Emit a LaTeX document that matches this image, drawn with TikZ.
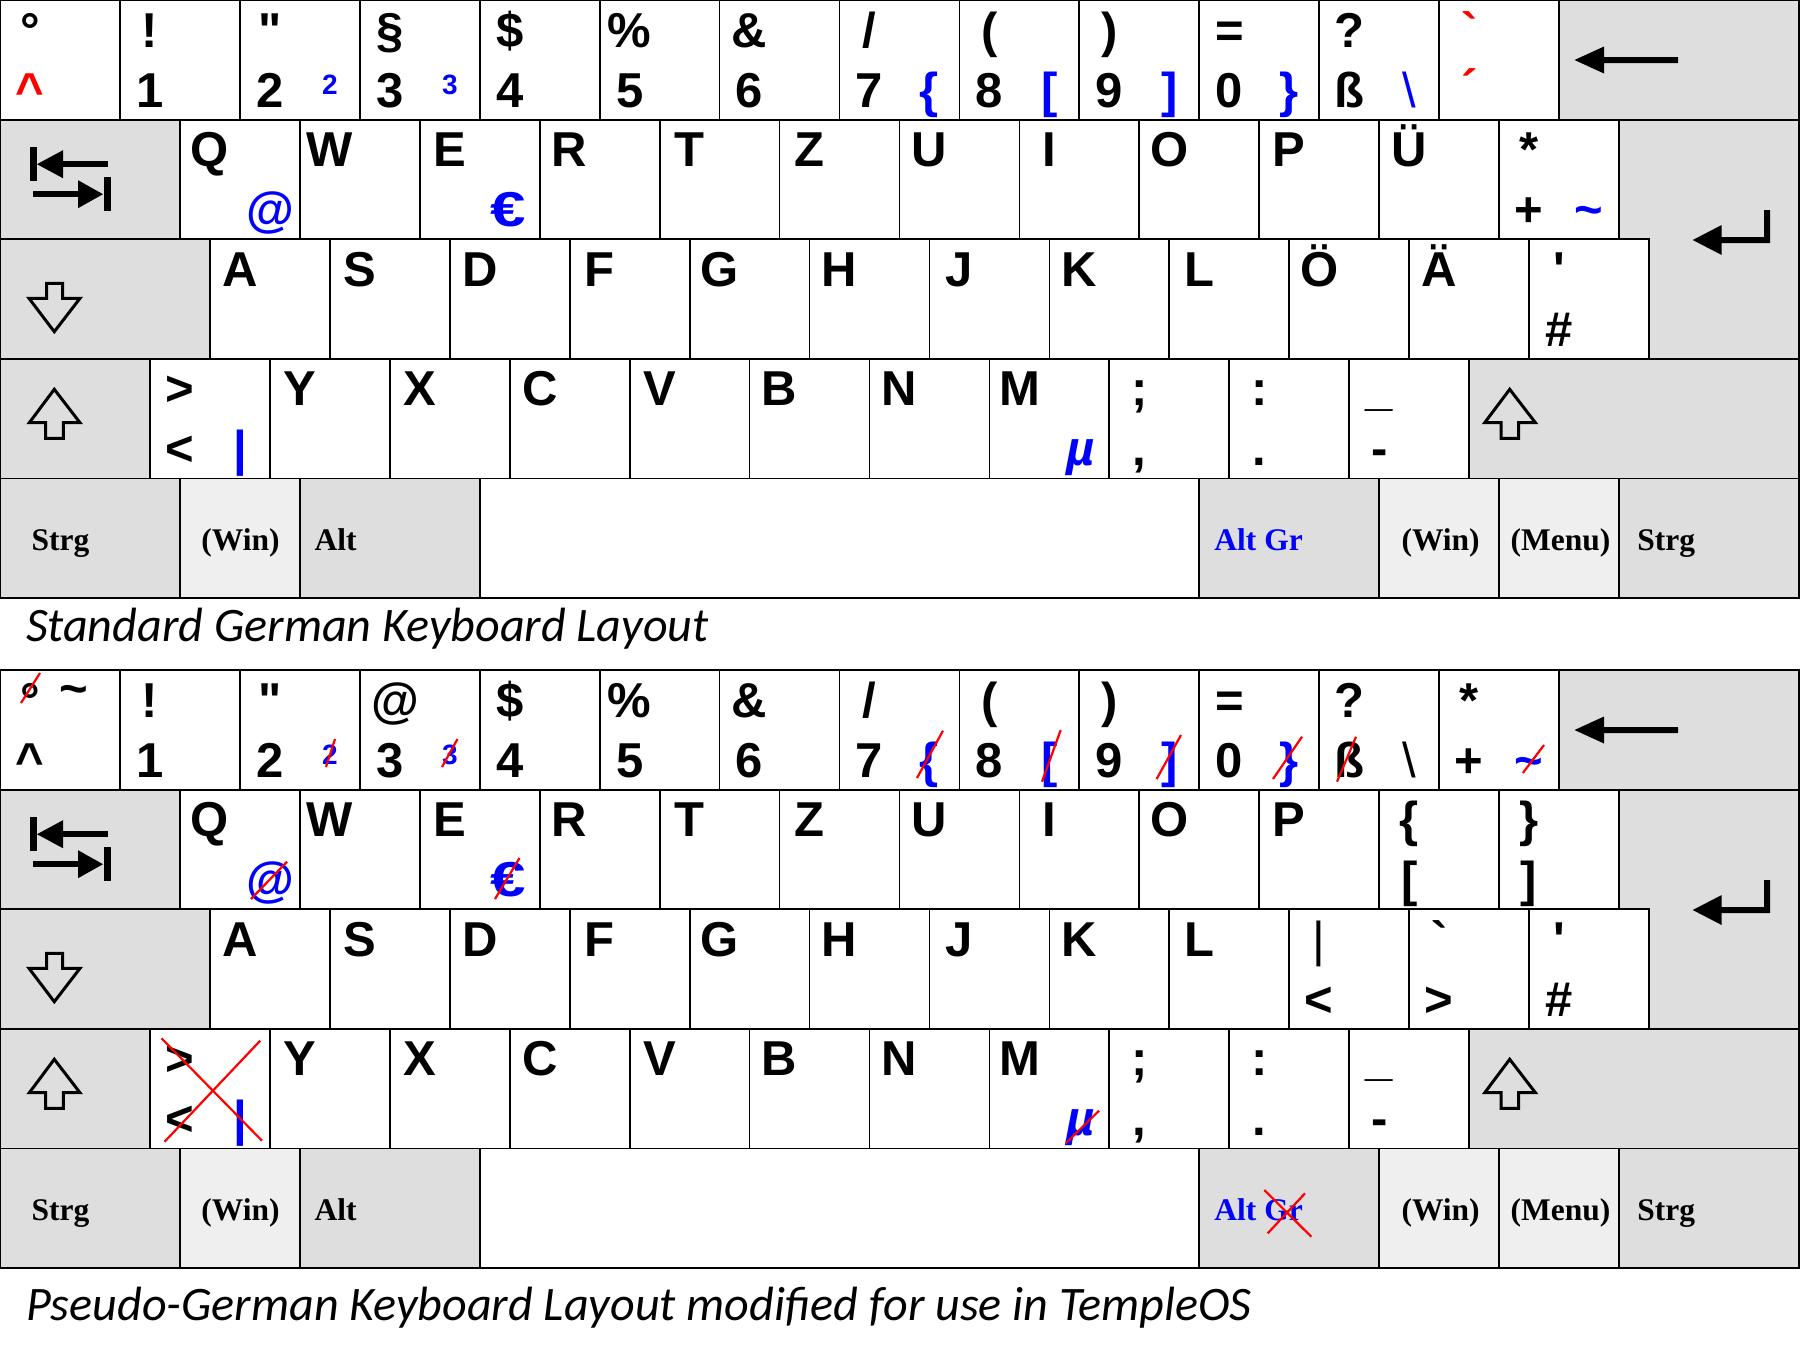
\documentclass[tikz,border=0pt]{standalone}
\usepackage{fontspec}
\usepackage{graphicx}
\newfontfamily\kfam{Liberation Sans}[Ligatures=TeXOff]
\newfontfamily\tfam{Liberation Serif}
\newfontfamily\cfam{Carlito}
\definecolor{kgray}{HTML}{DEDEDE}
\definecolor{klight}{HTML}{EFEFEF}
\definecolor{kblue}{HTML}{0000FF}
\definecolor{kred}{HTML}{FF0000}
\newcounter{lc}
\def\uu{119.93}
\def\hh{119.6}
\tikzset{
  keyframe/.style={draw=black, line width=1.8pt},
  lbl/.style={inner sep=0pt, outer sep=0pt, anchor=base, font=\kfam\bfseries\fontsize{49}{55}\selectfont},
  smallfont/.style={font=\kfam\bfseries\fontsize{28}{33}\selectfont},
  thinfont/.style={font=\kfam\fontsize{49}{55}\selectfont},
  italfont/.style={font=\kfam\bfseries\itshape\fontsize{49}{55}\selectfont},
  modlabel/.style={inner sep=0pt, outer sep=0pt, font=\tfam\bfseries\fontsize{31.5}{37}\selectfont},
  captiontxt/.style={inner sep=0pt, outer sep=0pt, anchor=base west, font=\cfam\itshape\fontsize{48.1}{57}\selectfont},
  strike/.style={draw=kred, line width=2.2pt},
  outlinearrow/.style={draw=black, line width=3pt, line join=miter},
}
\newcommand\LT[4][]{\stepcounter{lc}\node[lbl,#1] (L\thelc) at ({#2*\uu+30},{#3+47}) {#4};}
\newcommand\LB[4][]{\stepcounter{lc}\node[lbl,#1] (L\thelc) at ({#2*\uu+30},{#3+107}) {#4};}
\newcommand\RB[4][]{\stepcounter{lc}\node[lbl,text=kblue,#1] (L\thelc) at ({#2*\uu+90},{#3+107}) {#4};}
\newcommand\RS[4][]{\stepcounter{lc}\node[lbl,smallfont,text=kblue,#1] (L\thelc) at ({#2*\uu+90},{#3+94}) {#4};}
\newcommand\ML[3][]{\stepcounter{lc}\node[modlabel,anchor=base west,#1] (L\thelc) at (#2,550) {#3};}
\newcommand\MC[3][]{\stepcounter{lc}\node[modlabel,anchor=base,#1] (L\thelc) at (#2,550) {#3};}
\newcommand\euro{\scalebox{1.3}[1]{€}}

\newcommand\kbframe{%
  % row 0
  \foreach \i in {0,...,12}{\filldraw[keyframe,fill=white] ({\i*\uu},0) rectangle ({(\i+1)*\uu},\hh);}
  \filldraw[keyframe,fill=kgray] ({13*\uu},0) rectangle ({15*\uu},\hh);
  % row 1
  \filldraw[keyframe,fill=kgray] (0,\hh) rectangle ({1.5*\uu},{2*\hh});
  \foreach \i in {0,...,11}{\filldraw[keyframe,fill=white] ({(1.5+\i)*\uu},\hh) rectangle ({(2.5+\i)*\uu},{2*\hh});}
  \filldraw[keyframe,fill=kgray] ({13.5*\uu},\hh) -- ({15*\uu},\hh) -- ({15*\uu},{3*\hh}) -- ({13.75*\uu},{3*\hh}) -- ({13.75*\uu},{2*\hh}) -- ({13.5*\uu},{2*\hh}) -- cycle;
  % row 2
  \filldraw[keyframe,fill=kgray] (0,{2*\hh}) rectangle ({1.75*\uu},{3*\hh});
  \foreach \i in {0,...,11}{\filldraw[keyframe,fill=white] ({(1.75+\i)*\uu},{2*\hh}) rectangle ({(2.75+\i)*\uu},{3*\hh});}
  % row 3
  \filldraw[keyframe,fill=kgray] (0,{3*\hh}) rectangle ({1.25*\uu},{4*\hh});
  \foreach \i in {0,...,10}{\filldraw[keyframe,fill=white] ({(1.25+\i)*\uu},{3*\hh}) rectangle ({(2.25+\i)*\uu},{4*\hh});}
  \filldraw[keyframe,fill=kgray] ({12.25*\uu},{3*\hh}) rectangle ({15*\uu},{4*\hh});
  % row 4
  \foreach \a/\w/\cc in {0/1.5/kgray, 1.5/1/klight, 2.5/1.5/kgray, 4/6/white, 10/1.5/kgray, 11.5/1/klight, 12.5/1/klight, 13.5/1.5/kgray}
    {\filldraw[keyframe,fill=\cc] ({\a*\uu},{4*\hh}) rectangle ({(\a+\w)*\uu},{5*\hh});}
  % backspace arrow
  \fill (1574.5,60) -- (1604,46.5) -- (1604,57) -- (1678,57) -- (1678,63) -- (1604,63) -- (1604,73.5) -- cycle;
  % tab arrows
  \fill (30,147.2) rectangle (37,181.2);
  \fill (37,164.2) -- (63,150.2) -- (63,178.2) -- cycle;
  \fill (62,161.2) rectangle (108,167.2);
  \fill (33,191.2) rectangle (79,197.2);
  \fill (78,180.2) -- (103,194.2) -- (78,208.2) -- cycle;
  \fill (104,177.2) rectangle (111,211.2);
  % caps lock arrow
  \draw[outlinearrow] (46.7,283.3) -- (62.7,283.3) -- (62.7,298.3) -- (80,298.3) -- (54.3,331.7) -- (29,298.3) -- (46.7,298.3) -- cycle;
  % shift arrows
  \draw[outlinearrow] (54.3,389.3) -- (80,422.7) -- (63.3,422.7) -- (63.3,438.3) -- (45.7,438.3) -- (45.7,422.7) -- (29.3,422.7) -- cycle;
  \draw[outlinearrow,xshift=1455.4pt] (54.3,389.3) -- (80,422.7) -- (63.3,422.7) -- (63.3,438.3) -- (45.7,438.3) -- (45.7,422.7) -- (29.3,422.7) -- cycle;
  % enter arrow
  \fill (1692.7,240) -- (1721.7,225) -- (1721.7,237) -- (1764,237) -- (1764,210) -- (1770,210) -- (1770,243) -- (1721.7,243) -- (1721.7,255) -- cycle;
}

\newcommand\kbcommon{%
  % row 0
  \LT{1}{0}{!} \LB{1}{0}{1}
  \LT{2}{0}{"} \LB{2}{0}{2}
  \LB{3}{0}{3}
  \LT{4}{0}{\$} \LB{4}{0}{4}
  \LT{5}{0}{\%} \LB{5}{0}{5}
  \LT{6}{0}{\&} \LB{6}{0}{6}
  \LT{7}{0}{/} \LB{7}{0}{7}
  \LT{8}{0}{(} \LB{8}{0}{8}
  \LT{9}{0}{)} \LB{9}{0}{9}
  \LT{10}{0}{=} \LB{10}{0}{0}
  \LT{11}{0}{?}
  % row 1
  \foreach \x/\ch in {1.5/Q,2.5/W,3.5/E,4.5/R,5.5/T,6.5/Z,7.5/U,8.5/I,9.5/O,10.5/P}{\LT{\x}{119.6}{\ch}}
  % row 2
  \foreach \x/\ch in {1.75/A,2.75/S,3.75/D,4.75/F,5.75/G,6.75/H,7.75/J,8.75/K,9.75/L}{\LT{\x}{239.2}{\ch}}
  \LT{12.75}{239.2}{'} \LB{12.75}{239.2}{\#}
  % row 3
  \LT{1.25}{358.8}{>} \LB{1.25}{358.8}{<} \RB{1.25}{358.8}{|}
  \foreach \x/\ch in {2.25/Y,3.25/X,4.25/C,5.25/V,6.25/B,7.25/N,8.25/M}{\LT{\x}{358.8}{\ch}}
  \RB[italfont,xshift=1pt]{8.25}{358.8}{µ}
  \LT{9.25}{358.8}{;} \LB{9.25}{358.8}{,}
  \LT{10.25}{358.8}{:} \LB{10.25}{358.8}{.}
  \LT{11.25}{358.8}{\_} \LB{11.25}{358.8}{-}
  % row 4
  \ML{31.6}{Strg}
  \MC{240.5}{(Win)}
  \ML{314.6}{Alt}
  \ML[text=kblue]{1214.4}{Alt Gr}
  \MC{1440.6}{(Win)}
  \MC{1560.4}{(Menu)}
  \ML{1637.3}{Strg}
}

\begin{document}
\begin{tikzpicture}[x=1pt,y=-1pt]
\fill[white] (0,0) rectangle (1801,1350);
\useasboundingbox (0,0) rectangle (1801,1350);

% ---------------- standard layout ----------------
\begin{scope}
  \kbframe
  \kbcommon
  \LT{0}{0}{°} \LB[text=kred]{0}{0}{\textasciicircum}
  \RS{2}{0}{2}
  \LT{3}{0}{§} \RS{3}{0}{3}
  \RB{7}{0}{\{} \RB{8}{0}{[} \RB{9}{0}{]} \RB{10}{0}{\}}
  \LB{11}{0}{ß} \RB[thinfont]{11}{0}{\textbackslash}
  \LT[text=kred]{12}{0}{`} \LB[text=kred,yshift=3pt]{12}{0}{´}
  \LT{11.5}{119.6}{Ü}
  \RB{1.5}{119.6}{@} \RB[xshift=-2pt]{3.5}{119.6}{\euro}
  \LT{12.5}{119.6}{*} \LB{12.5}{119.6}{+} \RB{12.5}{119.6}{\textasciitilde}
  \LT{10.75}{239.2}{Ö} \LT{11.75}{239.2}{Ä}
\end{scope}
\node[captiontxt] (cap1) at (26,641) {Standard German Keyboard Layout};

% ---------------- modified layout ----------------
\begin{scope}[shift={(0,670)}]
  \kbframe
  \kbcommon
  \LT{0}{0}{°} \LB{0}{0}{\textasciicircum}
  \stepcounter{lc}\node[lbl] (L\thelc) at (74,35) {\textasciitilde};
  \RS{2}{0}{2}
  \LT[xshift=6pt]{3}{0}{@} \RS{3}{0}{3}
  \RB{7}{0}{\{} \RB{8}{0}{[} \RB{9}{0}{]} \RB{10}{0}{\}}
  \LB{11}{0}{ß} \RB[thinfont,text=black]{11}{0}{\textbackslash}
  \LT{12}{0}{*} \LB{12}{0}{+} \RB{12}{0}{\textasciitilde}
  \RB{1.5}{119.6}{@} \RB[xshift=-2pt]{3.5}{119.6}{\euro}
  \LT{11.5}{119.6}{\{} \LB{11.5}{119.6}{[}
  \LT{12.5}{119.6}{\}} \LB{12.5}{119.6}{]}
  \LT[thinfont]{10.75}{239.2}{|} \LB{10.75}{239.2}{<}
  \LT{11.75}{239.2}{`} \LB{11.75}{239.2}{>}
  % strike-throughs
  \draw[strike] (21,33) -- (40,3);
  \draw[strike] (326,97) -- (335,69);
  \draw[strike] (442,97) -- (457.5,69);
  \draw[strike] (917,108) -- (943,60.7);
  \draw[strike] (1042,111.7) -- (1060.7,60);
  \draw[strike] (1156.6,109) -- (1181,65);
  \draw[strike] (1273,109) -- (1302,66.7);
  \draw[strike] (1337,111.7) -- (1356,66.7);
  \draw[strike] (1522.8,103) -- (1544,75);
  \draw[strike] (251,229) -- (287,191.7);
  \draw[strike] (495,229) -- (519.5,188);
  \draw[strike] (161.5,368.3) -- (262,470.7);
  \draw[strike] (164.6,471.7) -- (260.2,370.7);
  \draw[strike] (1066,473) -- (1099,440.7);
  \draw[strike] (1264.3,520) -- (1311.3,566.7);
  \draw[strike] (1267.7,563.3) -- (1305,523.3);
\end{scope}
\node[captiontxt] (cap2) at (26,1320) {Pseudo-German Keyboard Layout modified for use in TempleOS};
\end{tikzpicture}
\end{document}
